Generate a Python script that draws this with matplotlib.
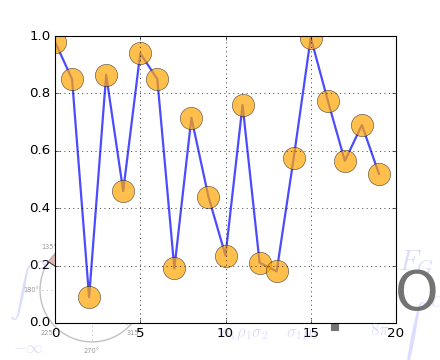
import matplotlib
matplotlib.use("Agg")
import matplotlib.pyplot as plt
import numpy as np

plt.style.use('classic')

# data
x_vals = list(range(20))
y_vals = [0.98, 0.85, 0.09, 0.865, 0.46, 0.94, 0.85, 0.19, 0.715, 0.44,
          0.235, 0.76, 0.21, 0.18, 0.575, 0.995, 0.775, 0.565, 0.69, 0.52]
x_ticks = [0, 5, 10, 15, 20]
y_ticks = [0.0, 0.2, 0.4, 0.6, 0.8, 1.0]
polar_labels = ['0°', '45°', '90°', '135°', '180°', '225°', '270°', '315°']

fig = plt.figure(figsize=(5.5, 4.5), dpi=80, facecolor='white')

# ---- watermark (logo fragments) behind the axes ----
lav = (0.55, 0.55, 1.0)
pax = fig.add_axes([0.209 - 0.118, 0.194 - 0.144, 0.236, 0.289],
                   projection='polar', zorder=0)
pax.set_facecolor('none')
pax.set_ylim(0, 1)
pax.set_yticks([0.5])
pax.set_yticklabels([])
pax.set_xticks(np.deg2rad(np.arange(0, 360, 45)))
pax.set_xticklabels(polar_labels, fontsize=6, color='0.6')
pax.grid(True, color='0.6', linestyle=':', linewidth=0.6)
pax.spines['polar'].set_color('0.75')
pax.spines['polar'].set_linewidth(1.2)
pax.bar([np.deg2rad(140)], [1.0], width=0.25, color=(0.85, 0.6, 0.6), alpha=0.7)
pax.tick_params(pad=1)

fig.text(0.02, 0.1, r'$\int^{\infty}$', fontsize=22, color=lav, alpha=0.3,
         va='bottom')
fig.text(0.03, 0.02, r'$-\infty$', fontsize=15, color=lav, alpha=0.3)
fig.text(0.905, 0.25, r'$F_G$', fontsize=26, color=lav, alpha=0.3)
fig.text(0.895, 0.02, r'$\int^{\alpha}$', fontsize=30, color=lav, alpha=0.3)
fig.text(0.5, 0.065, r'$\sigma_1\rho_1\sigma_2$', fontsize=15, color=lav, alpha=0.3)
fig.text(0.65, 0.065, r'$\sigma_1\rho_1$', fontsize=15, color=lav, alpha=0.3)
fig.text(0.84, 0.07, r'$8\pi$', fontsize=15, color=lav, alpha=0.3)
fig.text(0.898, 0.14, 'O', fontsize=50, color='0.45')
fig.patches.append(plt.Rectangle((0.752, 0.083), 0.016, 0.016,
                                 transform=fig.transFigure, color='0.45',
                                 zorder=0, figure=fig))

# ---- main axes ----
ax = fig.add_axes([0.125, 0.1028, 0.775, 0.797], zorder=1)
ax.set_facecolor('white')
ax.plot(x_vals, y_vals, '-o', ms=20, lw=2, alpha=0.7, color='b',
        mfc='orange', mec='k', mew=0.5)
ax.set_xlim(0, 20)
ax.set_ylim(0, 1)
ax.set_xticks(x_ticks)
ax.set_yticks(y_ticks)
ax.grid(True, color='k', linestyle=':', linewidth=0.6)
ax.tick_params(labelsize=12)

fig.savefig('out.png', dpi=80, facecolor='white')
